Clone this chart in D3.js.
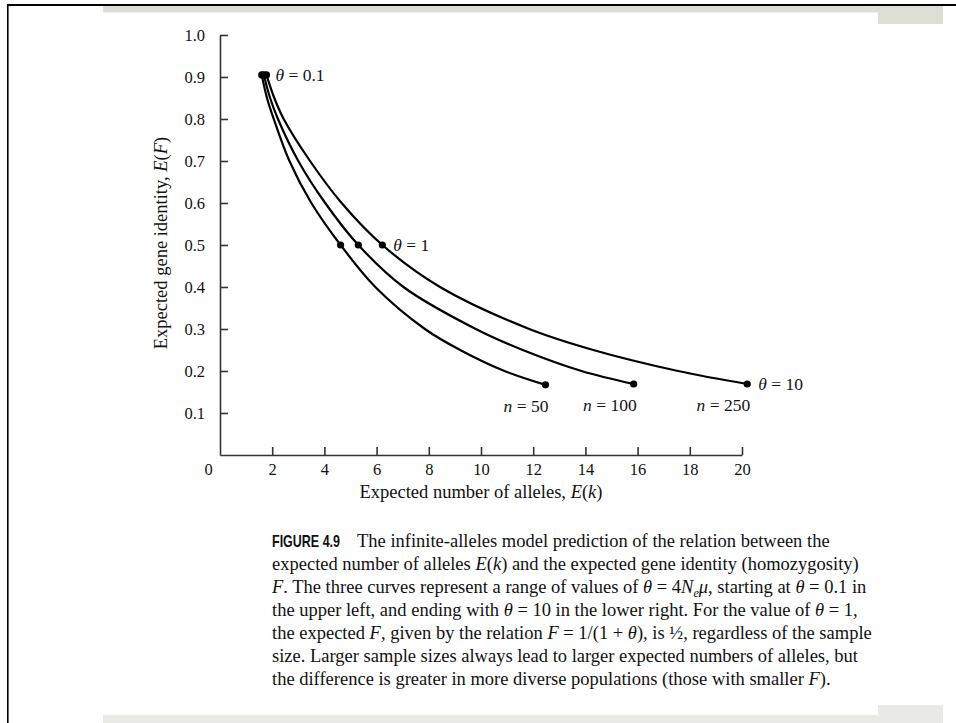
<!DOCTYPE html>
<html>
<head>
<meta charset="utf-8" />
<title>Expected alleles vs gene identity</title>
<style>
  body { margin: 0; background: #fff; }
  svg { display: block; }
  .serif { font-family: "Liberation Serif", "Times New Roman", serif; fill: #111; }
</style>
</head>
<body>
<script src="https://cdnjs.cloudflare.com/ajax/libs/d3/7.8.5/d3.min.js"></script>
<script>
// values
var xTicks = [0, 2, 4, 6, 8, 10, 12, 14, 16, 18, 20];
var yTicks = [0.1, 0.2, 0.3, 0.4, 0.5, 0.6, 0.7, 0.8, 0.9, 1.0];
var sampleSizes = [50, 100, 250];

// [E(k), E(F)] along each curve, n = 50, 100, 250
var curve50  = [[1.60,0.905],[1.80,0.85],[2.06,0.80],[2.66,0.70],[3.50,0.60],[4.62,0.50],[5.95,0.40],[7.85,0.30],[9.20,0.25],[10.90,0.20],[12.47,0.167]];
var curve100 = [[1.68,0.905],[1.92,0.85],[2.22,0.80],[3.00,0.70],[4.03,0.60],[5.30,0.50],[7.03,0.40],[9.80,0.30],[11.60,0.25],[13.85,0.20],[15.85,0.169]];
var curve250 = [[1.78,0.905],[2.08,0.85],[2.44,0.80],[3.45,0.70],[4.66,0.60],[6.22,0.50],[8.43,0.40],[11.85,0.30],[14.30,0.25],[17.55,0.20],[20.20,0.169]];
var curves = [curve50, curve100, curve250];

var thetaLabels = ["θ = 0.1", "θ = 1", "θ = 10"];

var width = 956, height = 723;

var svg = d3.select("body").append("svg")
    .attr("width", width)
    .attr("height", height);

// page frame bits
svg.append("rect").attr("x", 7).attr("y", 4).attr("width", width - 7).attr("height", 2).attr("fill", "#000");
svg.append("rect").attr("x", 7).attr("y", 4).attr("width", 1.6).attr("height", height - 4).attr("fill", "#000");
svg.append("rect").attr("x", 103).attr("y", 6).attr("width", 840).attr("height", 6.5).attr("fill", "#dddfd6");
svg.append("rect").attr("x", 878).attr("y", 6).attr("width", 65).attr("height", 18).attr("fill", "#dddfd6");
svg.append("rect").attr("x", 103).attr("y", 715).attr("width", 840).attr("height", 8).attr("fill", "#e9e9e5");
svg.append("rect").attr("x", 878).attr("y", 705).attr("width", 65).attr("height", 18).attr("fill", "#e9e9e5");

var x = d3.scaleLinear().domain([0, 20]).range([220, 742]);
var y = d3.scaleLinear().domain([0, 1]).range([455, 35]);

var yAxis = svg.append("g")
    .attr("transform", "translate(220,0)")
    .call(d3.axisLeft(y).tickValues(yTicks).tickFormat(d3.format(".1f"))
        .tickSizeInner(-8).tickSizeOuter(0).tickPadding(15));

var xAxis = svg.append("g")
    .attr("transform", "translate(0,455)")
    .call(d3.axisBottom(x).tickValues(xTicks).tickFormat(d3.format("d"))
        .tickSizeInner(-8).tickSizeOuter(0).tickPadding(8));

svg.selectAll(".domain, .tick line").attr("stroke", "#333").attr("stroke-width", 1.6);
svg.selectAll(".tick text").attr("class", "serif").attr("font-size", 16.5)
    .attr("font-family", "'Liberation Serif', serif").attr("fill", "#111");
xAxis.selectAll(".tick").filter(function(d) { return d === 0; })
    .select("text").attr("x", -12);
xAxis.selectAll(".tick").filter(function(d) { return d === 0; })
    .select("line").remove();

// axis titles
svg.append("text").attr("class", "serif")
    .attr("x", 481).attr("y", 498).attr("text-anchor", "middle").attr("font-size", 18.5)
    .html("Expected number of alleles, <tspan font-style='italic'>E</tspan>(<tspan font-style='italic'>k</tspan>)");

svg.append("text").attr("class", "serif")
    .attr("transform", "translate(167,243) rotate(-90)")
    .attr("text-anchor", "middle").attr("font-size", 18.5)
    .html("Expected gene identity, <tspan font-style='italic'>E</tspan>(<tspan font-style='italic'>F</tspan>)");

// curves
var line = d3.line()
    .x(function(d) { return x(d[0]); })
    .y(function(d) { return y(d[1]); })
    .curve(d3.curveCatmullRom.alpha(0.5));

svg.append("g").selectAll("path")
    .data(curves)
    .enter().append("path")
    .attr("d", line)
    .attr("fill", "none")
    .attr("stroke", "#000")
    .attr("stroke-width", 2.2);

// theta points: start (0.1), F = 0.5 (1), end (10)
var dotIdx = [0, 5, 10];
var dots = [];
curves.forEach(function(c) {
    dotIdx.forEach(function(i) { dots.push(c[i]); });
});
svg.append("g").selectAll("circle")
    .data(dots)
    .enter().append("circle")
    .attr("cx", function(d) { return x(d[0]); })
    .attr("cy", function(d) { return y(d[1]); })
    .attr("r", 3.6)
    .attr("fill", "#000");

// theta labels next to the n = 250 curve
var labelG = svg.append("g");
dotIdx.forEach(function(i, k) {
    var p = curve250[i];
    var parts = thetaLabels[k].split("θ");
    labelG.append("text").attr("class", "serif")
        .attr("x", x(p[0]) + (k === 0 ? 9 : 11))
        .attr("y", y(p[1]) + 6)
        .attr("font-size", 17.5)
        .html("<tspan font-style='italic'>θ</tspan>" + parts[1]);
});

// sample size labels under the end points
curves.forEach(function(c, k) {
    var p = c[c.length - 1];
    labelG.append("text").attr("class", "serif")
        .attr("x", x(p[0]) + 3)
        .attr("y", y(p[1]) + 27)
        .attr("text-anchor", "end")
        .attr("font-size", 17.5)
        .html("<tspan font-style='italic'>n</tspan> = " + sampleSizes[k]);
});

// caption
var cap = svg.append("g");
cap.append("text")
    .attr("x", 272).attr("y", 547)
    .attr("font-family", "'Liberation Sans', Arial, sans-serif")
    .attr("font-weight", "bold").attr("font-size", 17).attr("fill", "#111")
    .attr("textLength", 68).attr("lengthAdjust", "spacingAndGlyphs")
    .text("FIGURE 4.9");

var it = function(s) { return "<tspan font-style='italic'>" + s + "</tspan>"; };
var capLines = [
    { x: 357, h: "The infinite-alleles model prediction of the relation between the" },
    { x: 272, h: "expected number of alleles " + it("E") + "(" + it("k") + ") and the expected gene identity (homozygosity)" },
    { x: 272, h: it("F") + ". The three curves represent a range of values of " + it("θ") + " = 4" + it("N") +
        "<tspan font-size='12' dy='4' font-style='italic'>e</tspan><tspan dy='-4' font-style='italic'>μ</tspan>, starting at " + it("θ") + " = 0.1 in" },
    { x: 272, h: "the upper left, and ending with " + it("θ") + " = 10 in the lower right. For the value of " + it("θ") + " = 1," },
    { x: 272, h: "the expected " + it("F") + ", given by the relation " + it("F") + " = 1/(1 + " + it("θ") + "), is ½, regardless of the sample" },
    { x: 272, h: "size. Larger sample sizes always lead to larger expected numbers of alleles, but" },
    { x: 272, h: "the difference is greater in more diverse populations (those with smaller " + it("F") + ")." }
];
capLines.forEach(function(l, i) {
    cap.append("text").attr("class", "serif")
        .attr("x", l.x).attr("y", 547 + 23 * i)
        .attr("font-size", 18.5)
        .html(l.h);
});
</script>
</body>
</html>
